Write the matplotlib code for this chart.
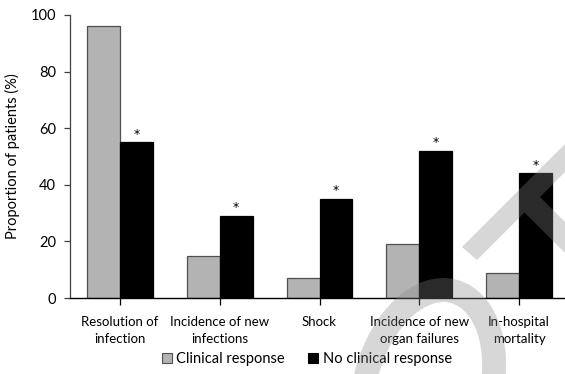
import matplotlib
matplotlib.use("Agg")
import matplotlib.pyplot as plt
from matplotlib.patches import Polygon, Ellipse
import numpy as np

# -- Data --------------------------------------------------------------------
categories = ["Resolution of\ninfection", "Incidence of new\ninfections", "Shock",
              "Incidence of new\norgan failures", "In-hospital\nmortality"]
clinical_response = [96, 15, 7, 19, 9]
no_clinical_response = [55, 29, 35, 52, 44]
significant = [True, True, True, True, True]
y_ticks = [0, 20, 40, 60, 80, 100]

plt.rcParams["font.family"] = ["Lato", "DejaVu Sans"]
FS = 9.5
FS_BIG = 10.5

W, H = 565, 374
fig = plt.figure(figsize=(W / 100, H / 100), dpi=100)
ax = fig.add_axes([70 / W, 76 / H, 499 / W, 283 / H])

x = np.arange(len(categories))
bw = 0.33
ax.bar(x, clinical_response, width=-bw, align="edge", color="#b3b3b3",
       edgecolor="#505050", linewidth=0.9, label="Clinical response")
ax.bar(x, no_clinical_response, width=bw, align="edge", color="black",
       edgecolor="black", linewidth=0.9, label="No clinical response")

# significance markers over the black bars
for xi, v, s in zip(x, no_clinical_response, significant):
    if s:
        ax.text(xi + bw / 2, v + 0.6, "*", ha="center", va="bottom",
                fontsize=9, family="DejaVu Sans", color="black")

ax.set_xlim(-0.5, len(categories) - 0.5)
ax.set_ylim(0, 100)
ax.set_yticks(y_ticks)
ax.set_xticks(x)
ax.set_xticklabels(categories, fontsize=FS, linespacing=1.5)
ax.tick_params(axis="y", labelsize=FS_BIG, length=4, width=0.9, color="#404040", pad=6)
ax.tick_params(axis="x", length=5, width=0.9, color="black", pad=8)
ax.set_ylabel("Proportion of patients (%)", fontsize=FS_BIG, labelpad=8)

for side in ["top", "right"]:
    ax.spines[side].set_visible(False)
ax.spines["left"].set_color("#404040")
ax.spines["left"].set_linewidth(0.9)
ax.spines["bottom"].set_color("black")
ax.spines["bottom"].set_linewidth(1.0)

leg = fig.legend(loc="center", bbox_to_anchor=(0.543, 1 - 359 / H), ncol=2,
                 frameon=False, fontsize=FS_BIG, handlelength=0.7, handleheight=0.7,
                 handletextpad=0.3, columnspacing=1.6)
for h in leg.legend_handles:
    h.set_linewidth(0.8)

# -- Watermark, in pixels from the lower-left corner --------------------------
def inch(pts):
    return [(a / 100, (H - b) / 100) for a, b in pts]

wm_col = "#848484"
wm_alpha = 0.32
stripe = [(462, 247), (600, 109), (600, 137), (540, 197), (600, 257),
          (600, 288), (524.5, 212.5), (477, 260)]
fig.add_artist(Polygon(inch(stripe), closed=True, transform=fig.dpi_scale_trans,
                       facecolor=wm_col, edgecolor="none", alpha=wm_alpha, zorder=10))

ring = Ellipse((4.28, -0.14), width=1.26, height=2.0, angle=-15,
               transform=fig.dpi_scale_trans, fill=False, edgecolor=wm_col,
               linewidth=24 * 72 / 100, alpha=wm_alpha, zorder=10)
fig.add_artist(ring)

fig.savefig("out.png", dpi=100)
